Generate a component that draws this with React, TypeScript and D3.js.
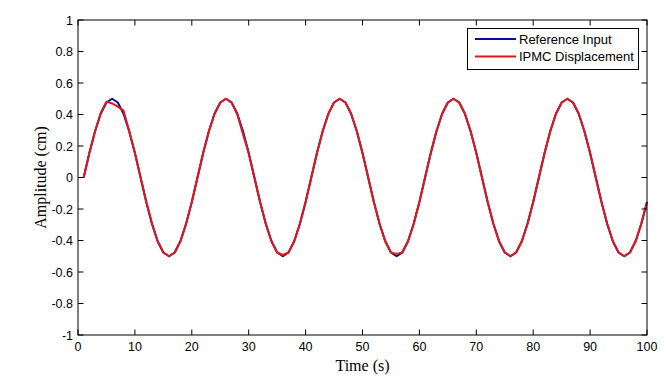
import React from "react";
import * as d3 from "d3";

const time = [
  1, 2, 3, 4, 5, 6, 7, 8, 9, 10, 11, 12, 13, 14, 15, 16, 17, 18, 19, 20,
  21, 22, 23, 24, 25, 26, 27, 28, 29, 30, 31, 32, 33, 34, 35, 36, 37, 38, 39, 40,
  41, 42, 43, 44, 45, 46, 47, 48, 49, 50, 51, 52, 53, 54, 55, 56, 57, 58, 59, 60,
  61, 62, 63, 64, 65, 66, 67, 68, 69, 70, 71, 72, 73, 74, 75, 76, 77, 78, 79, 80,
  81, 82, 83, 84, 85, 86, 87, 88, 89, 90, 91, 92, 93, 94, 95, 96, 97, 98, 99, 100,
];

const referenceInput = [
  0, 0.155, 0.294, 0.405, 0.476, 0.5, 0.476, 0.405, 0.294, 0.155, 0, -0.155, -0.294, -0.405, -0.476, -0.5, -0.476, -0.405, -0.294, -0.155,
  0, 0.155, 0.294, 0.405, 0.476, 0.5, 0.476, 0.405, 0.294, 0.155, 0, -0.155, -0.294, -0.405, -0.476, -0.5, -0.476, -0.405, -0.294, -0.155,
  0, 0.155, 0.294, 0.405, 0.476, 0.5, 0.476, 0.405, 0.294, 0.155, 0, -0.155, -0.294, -0.405, -0.476, -0.5, -0.476, -0.405, -0.294, -0.155,
  0, 0.155, 0.294, 0.405, 0.476, 0.5, 0.476, 0.405, 0.294, 0.155, 0, -0.155, -0.294, -0.405, -0.476, -0.5, -0.476, -0.405, -0.294, -0.155,
  0, 0.155, 0.294, 0.405, 0.476, 0.5, 0.476, 0.405, 0.294, 0.155, 0, -0.155, -0.294, -0.405, -0.476, -0.5, -0.476, -0.405, -0.294, -0.155,
];

const ipmcDisplacement = [
  0, 0.155, 0.294, 0.41, 0.482, 0.47, 0.45, 0.425, 0.294, 0.155, 0, -0.155, -0.294, -0.405, -0.476, -0.5, -0.476, -0.405, -0.294, -0.155,
  0, 0.155, 0.294, 0.405, 0.476, 0.5, 0.476, 0.4, 0.275, 0.155, 0, -0.155, -0.294, -0.405, -0.476, -0.492, -0.476, -0.405, -0.294, -0.155,
  0, 0.155, 0.294, 0.405, 0.476, 0.5, 0.476, 0.405, 0.294, 0.155, 0, -0.155, -0.294, -0.405, -0.476, -0.485, -0.476, -0.405, -0.294, -0.155,
  0, 0.155, 0.294, 0.405, 0.476, 0.5, 0.476, 0.405, 0.294, 0.155, 0, -0.155, -0.294, -0.405, -0.476, -0.5, -0.476, -0.405, -0.294, -0.155,
  0, 0.155, 0.294, 0.405, 0.476, 0.5, 0.476, 0.405, 0.294, 0.155, 0, -0.155, -0.294, -0.405, -0.476, -0.5, -0.476, -0.405, -0.294, -0.155,
];

const xTicks = [0, 10, 20, 30, 40, 50, 60, 70, 80, 90, 100];
const yTicks = [-1, -0.8, -0.6, -0.4, -0.2, 0, 0.2, 0.4, 0.6, 0.8, 1];
const legendLabels = ["Reference Input", "IPMC Displacement"];
const seriesColors = ["#0c0c9c", "#e21818"];

const W = 667;
const H = 379;
const L = 78, R = 647, T = 20, B = 335;

export default function App() {
  const x = d3.scaleLinear().domain([0, 100]).range([L, R]);
  const y = d3.scaleLinear().domain([-1, 1]).range([B, T]);
  const line = d3
    .line<number>()
    .x((_, i) => x(time[i]))
    .y((d) => y(d));
  const tick = 5.5;
  const tickFont = "'Liberation Sans', Arial, sans-serif";
  const serif = "'Liberation Serif', 'Times New Roman', serif";
  return (
    <svg
      width={W}
      height={H}
      style={{ position: "absolute", left: 0, top: 0, background: "#fff" }}
    >
      <rect x={0} y={0} width={W} height={H} fill="#fff" />
      <rect x={L} y={T} width={R - L} height={B - T} fill="#fff" />
      {/* series */}
      <path d={line(referenceInput) || ""} fill="none" stroke={seriesColors[0]} strokeWidth={2} strokeLinejoin="round" />
      <path d={line(ipmcDisplacement) || ""} fill="none" stroke={seriesColors[1]} strokeWidth={2} strokeLinejoin="round" />
      {/* ticks */}
      {xTicks.map((t) => (
        <g key={"x" + t}>
          <line x1={x(t)} x2={x(t)} y1={B} y2={B - tick} stroke="#000" />
          <line x1={x(t)} x2={x(t)} y1={T} y2={T + tick} stroke="#000" />
          <text x={x(t)} y={351} textAnchor="middle" fontFamily={tickFont} fontSize={12.5} fill="#000">
            {t}
          </text>
        </g>
      ))}
      {yTicks.map((t) => (
        <g key={"y" + t}>
          <line x1={L} x2={L + tick} y1={y(t)} y2={y(t)} stroke="#000" />
          <line x1={R} x2={R - tick} y1={y(t)} y2={y(t)} stroke="#000" />
          <text x={73} y={y(t)} dy="0.36em" textAnchor="end" fontFamily={tickFont} fontSize={12.5} fill="#000">
            {t}
          </text>
        </g>
      ))}
      <rect x={L} y={T} width={R - L} height={B - T} fill="none" stroke="#000" strokeWidth={1} />
      {/* axis labels */}
      <text x={(L + R) / 2} y={371} textAnchor="middle" fontFamily={serif} fontSize={16} fill="#000">
        Time (s)
      </text>
      <text
        transform={`translate(46, ${(T + B) / 2}) rotate(-90)`}
        textAnchor="middle"
        fontFamily={serif}
        fontSize={16}
        fill="#000"
      >
        Amplitude (cm)
      </text>
      {/* legend */}
      <rect x={467.5} y={28.5} width={171} height={41} fill="#fff" stroke="#000" strokeWidth={1} />
      {legendLabels.map((lab, i) => (
        <g key={lab}>
          <line x1={475} x2={516} y1={39 + i * 17.5} y2={39 + i * 17.5} stroke={seriesColors[i]} strokeWidth={2} />
          <text x={519} y={39 + i * 17.5} dy="0.36em" fontFamily={tickFont} fontSize={13} fill="#000">
            {lab}
          </text>
        </g>
      ))}
    </svg>
  );
}
